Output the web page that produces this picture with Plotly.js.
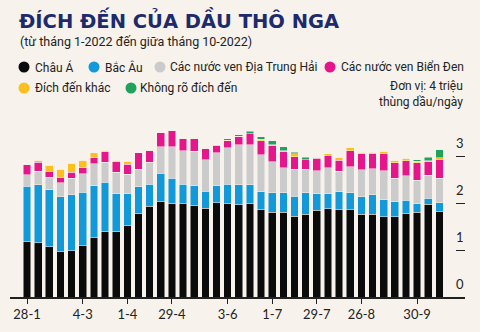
<!DOCTYPE html>
<html>
<head>
<meta charset="utf-8">
<script src="https://cdn.plot.ly/plotly-3.0.1.min.js"></script>
<style>
html,body{margin:0;padding:0;background:#f7f3ec;}
#chart{width:480px;height:332px;}
</style>
</head>
<body>
<div id="chart"></div>
<script>
// Weekly categories (28-1 to 14-10, 2022)
const weeks = ["28-1","4-2","11-2","18-2","25-2","4-3","11-3","18-3","25-3","1-4",
  "8-4","15-4","22-4","29-4","6-5","13-5","20-5","27-5","3-6","10-6",
  "17-6","24-6","1-7","8-7","15-7","22-7","29-7","5-8","12-8","19-8",
  "26-8","2-9","9-9","16-9","23-9","30-9","7-10","14-10"];
const tickLabels = ["28-1","4-3","1-4","29-4","3-6","1-7","29-7","26-8","30-9"];
const yTicks = [0,1,2,3];

const seriesNames = ["Châu Á","Bắc Âu","Các nước ven Địa Trung Hải","Các nước ven Biển Đen","Đích đến khác","Không rõ đích đến"];
const seriesColors = ["#0b0b0b","#1199d9","#cbcbcb","#e5168c","#fdbf1e","#1fa35a"];

const asia = [1.18,1.16,1.07,0.97,0.99,1.10,1.27,1.41,1.41,1.54,
  1.79,1.94,2.04,2.01,1.99,1.96,1.90,2.02,1.99,1.97,
  1.99,1.87,1.81,1.81,1.73,1.77,1.86,1.89,1.87,1.87,
  1.77,1.77,1.72,1.72,1.79,1.81,1.98,1.82];
const northEurope = [1.19,1.24,1.22,1.17,1.20,1.14,1.11,1.05,0.80,0.67,
  0.57,0.47,0.61,0.53,0.42,0.42,0.36,0.36,0.42,0.43,
  0.41,0.38,0.42,0.42,0.43,0.46,0.35,0.32,0.38,0.36,
  0.37,0.42,0.36,0.32,0.28,0.18,0.13,0.20];
const mediterranean = [0.25,0.29,0.27,0.30,0.35,0.40,0.47,0.42,0.46,0.42,
  0.37,0.47,0.56,0.67,0.72,0.74,0.68,0.71,0.78,0.86,
  0.86,0.79,0.66,0.54,0.57,0.50,0.49,0.55,0.44,0.56,
  0.58,0.55,0.62,0.50,0.52,0.51,0.49,0.52];
const blackSea = [0.22,0.19,0.13,0.12,0.13,0.13,0.13,0.23,0.22,0.21,
  0.36,0.26,0.30,0.36,0.25,0.26,0.23,0.15,0.15,0.18,
  0.23,0.30,0.35,0.34,0.27,0.21,0.27,0.26,0.24,0.34,
  0.34,0.32,0.36,0.33,0.32,0.37,0.29,0.40];
const otherDest = [0,0.04,0.13,0.17,0.19,0.16,0.11,0.03,0.03,0.06,
  0,0,0,0,0.02,0.02,0.01,0.02,0.01,0,
  0,0.03,0.02,0.02,0.06,0,0.02,0.04,0.06,0.06,
  0.04,0.04,0.06,0.05,0.06,0.03,0.02,0.04];
const unknownDest = [0,0,0,0,0,0,0,0,0,0,
  0,0,0,0,0,0,0,0,0.04,0.03,
  0.06,0.06,0.08,0.08,0.04,0.05,0,0,0,0,
  0,0,0,0,0,0.04,0.08,0.17];

const seriesValues = [asia,northEurope,mediterranean,blackSea,otherDest,unknownDest];
const BG = "#f7f3ec";

const traces = seriesValues.map((vals,i)=>({
  type:"bar", x:weeks, y:vals, name:seriesNames[i],
  marker:{color:seriesColors[i], line:{color:BG,width:0.5}},
  showlegend:false, hoverinfo:"skip"
}));

// pixel -> paper helpers
const L=10, R=465, T=110, B=297;
const px = v => (v-L)/(R-L);
const py = v => (B-v)/(B-T);

const annotations = [];
const shapes = [];
function txt(text,x,y,opts){
  annotations.push(Object.assign({text:text, xref:"paper", yref:"paper", x:px(x), y:py(y),
    xanchor:"left", yanchor:"middle", showarrow:false, borderpad:0,
    font:{family:"Roboto, sans-serif", size:12, color:"#222"}}, opts||{}));
}
txt("ĐÍCH ĐẾN CỦA DẦU THÔ NGA",18,19.5,{font:{family:"DejaVu Sans, sans-serif",size:19.5,weight:"bold",color:"#1d2a6c"}});
txt("(từ tháng 1-2022 đến giữa tháng 10-2022)",19,41.5,{font:{family:"Roboto, sans-serif",size:12.5,color:"#222"}});

const legendPos = [[24,67,34],[94,67,104],[160,67,169],[330,67,340],[24,88,34],[131,88,139]];
legendPos.forEach((p,i)=>{
  const r=5.5;
  shapes.push({type:"circle", xref:"paper", yref:"paper",
    x0:px(p[0]-r), x1:px(p[0]+r), y0:py(p[1]+r), y1:py(p[1]-r),
    fillcolor:seriesColors[i], line:{width:0}});
  txt(seriesNames[i], p[2], p[1]);
});
txt("Đơn vị: 4 triệu<br>thùng dầu/ngày",463.5,94.5,{xanchor:"right",align:"right",font:{family:"Roboto, sans-serif",size:12,color:"#222"}});

const layout = {
  width:480, height:332,
  margin:{l:L, r:480-R, t:T, b:332-B, pad:0},
  paper_bgcolor:BG, plot_bgcolor:BG,
  barmode:"stack", bargap:0.31,
  showlegend:false,
  xaxis:{type:"category", categoryorder:"array", categoryarray:weeks,
    range:[-1.53,39.3], tickmode:"array", tickvals:tickLabels, ticktext:tickLabels,
    ticks:"outside", ticklen:5, tickwidth:1, tickcolor:"#222",
    showline:true, linecolor:"#222", linewidth:1.5, showgrid:false, zeroline:false,
    tickfont:{family:"Lato, sans-serif", size:13, color:"#222"}},
  yaxis:{range:[0,4], side:"right", tickmode:"array", tickvals:yTicks, ticktext:yTicks.map(String),
    ticks:"inside", ticklen:9, tickwidth:1, tickcolor:"#222",
    ticklabelposition:"inside", ticklabelshift:-13, ticklabelstandoff:-8,
    showgrid:false, zeroline:false, showline:false,
    tickfont:{family:"Lato, sans-serif", size:13, color:"#222"}},
  annotations:annotations, shapes:shapes
};

Plotly.newPlot("chart", traces, layout, {displayModeBar:false, staticPlot:true});
</script>
</body>
</html>
